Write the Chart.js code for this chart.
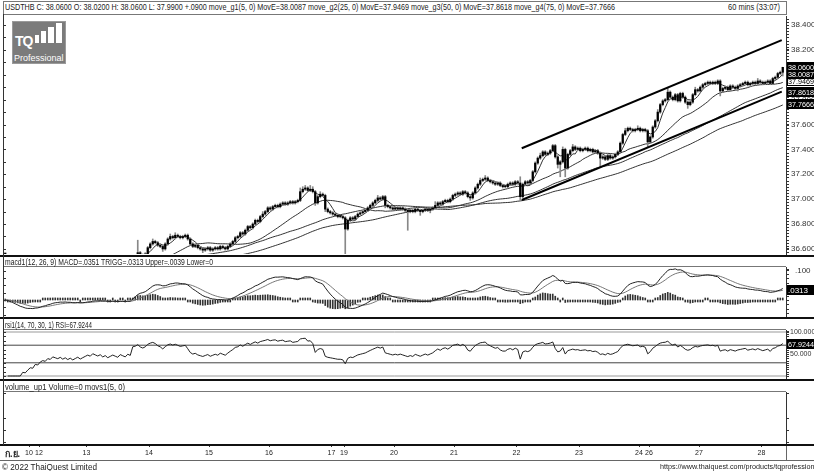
<!DOCTYPE html>
<html lang="th">
<head>
<meta charset="UTF-8">
<title>USDTHB 60 mins</title>
<script src="https://cdn.jsdelivr.net/npm/chart.js"></script>
<style>
  body { margin: 0; width: 814px; height: 471px; overflow: hidden; background: #fff; position: relative; font-family: 'Liberation Sans', Arial, sans-serif; color: #222; }
  canvas { position: absolute; left: 0; }
  .txt { position: absolute; white-space: nowrap; font-size: 9px; line-height: 10px; transform-origin: 0 0; }
  .rule { position: absolute; background: #111; }
  .row { position: absolute; left: 3px; width: 783px; border-bottom: 1px solid #777; }
  #logo { position: absolute; left: 12px; top: 21px; width: 54px; height: 43px; background: #7b7b7b; border: 1px solid #9a9a9a; box-sizing: border-box; color: #fff; }
  #logo .tq { position: absolute; left: 2px; top: 11px; font: bold 14px 'Liberation Sans', Arial, sans-serif; letter-spacing: -1px; }
  #logo .pro { position: absolute; left: 1px; top: 31px; font-size: 9px; }
  #logo i { position: absolute; background: #fff; }
</style>
</head>
<body>

<!-- header rows -->
<div class="row" style="top:1px;height:12px;border:1px solid #777;width:782px"></div>
<div class="txt" data-w="610" style="left:5px;top:2px">USDTHB C: 38.0600 O: 38.0200 H: 38.0600 L: 37.9900 +.0900 move_g1(5, 0) MovE=38.0087 move_g2(25, 0) MovE=37.9469 move_g3(50, 0) MovE=37.8618 move_g4(75, 0) MovE=37.7666</div>
<div class="txt" data-w="52" style="left:728px;top:2px">60 mins (33:07)</div>

<canvas id="price" width="814" height="242" style="top:14px"></canvas>
<canvas id="macd" width="814" height="62" style="top:256px"></canvas>
<canvas id="rsi" width="814" height="62" style="top:318px"></canvas>
<canvas id="vol" width="814" height="81" style="top:380px"></canvas>

<div class="row" style="top:257px;height:9px"></div>
<div class="txt" data-w="208" style="left:5px;top:257px">macd1(12, 26, 9) MACD=.0351 TRIGG=.0313 Upper=.0039 Lower=0</div>
<div class="row" style="top:319px;height:10px"></div>
<div class="txt" data-w="87" style="left:5px;top:320px">rsi1(14, 70, 30, 1) RSI=67.9244</div>
<div class="row" style="top:381px;height:10px"></div>
<div class="txt" data-w="120" style="left:5px;top:382px">volume_up1 Volume=0 movs1(5, 0)</div>

<!-- panel separators -->
<div class="rule" style="left:0;top:255px;width:814px;height:2px"></div>
<div class="rule" style="left:0;top:317px;width:814px;height:2px"></div>
<div class="rule" style="left:0;top:379px;width:814px;height:2px"></div>
<div class="rule" style="left:0;top:444px;width:814px;height:2px"></div>
<div class="rule" style="left:3px;top:14px;width:1px;height:431px;background:#333"></div>
<div class="rule" style="left:0;top:460px;width:814px;height:1px;background:#666"></div>
<div class="rule" style="left:786px;top:446px;width:1px;height:14px;background:#666"></div>

<div class="txt" style="left:5px;top:449px;font-weight:bold;font-size:9px">ก.ย.</div>
<div class="txt" data-w="95" style="left:2px;top:462px">© 2022 ThaiQuest Limited</div>
<div class="txt" data-w="160" style="left:660px;top:462px;font-size:8px">https://www.thaiquest.com/products/tqprofessional</div>

<div id="logo">
  <span class="tq">TQ</span>
  <i style="left:22px;top:13px;width:4px;height:8px"></i>
  <i style="left:28px;top:9px;width:5px;height:12px"></i>
  <i style="left:35px;top:5px;width:6px;height:16px"></i>
  <i style="left:43px;top:1px;width:6px;height:20px"></i>
  <div class="pro">Professional</div>
</div>

<script>
// ---- chart data (USDTHB, 60 min bars, 9-28 Sep) ----
const days = ['10', '12', '13', '14', '15', '16', '17', '19', '20', '21', '22', '23', '24', '26', '27', '28'];
const dayStart = [10, 14, 33, 58, 82, 106, 131, 136, 156, 180, 205, 230, 254, 258, 278, 303];

// closing price of each hourly bar (open = previous close)
const closes = [
  36.52, 36.50, 36.47, 36.46, 36.44, 36.43, 36.41, 36.42, 36.40, 36.41,
  36.42, 36.41, 36.43, 36.42, 36.44, 36.45, 36.44, 36.46, 36.45, 36.47,
  36.46, 36.45, 36.46, 36.44, 36.45, 36.43, 36.44, 36.42, 36.43, 36.44,
  36.42, 36.43, 36.44, 36.45, 36.44, 36.46, 36.45, 36.44, 36.45, 36.43,
  36.44, 36.42, 36.43, 36.44, 36.43, 36.42, 36.44, 36.43, 36.42, 36.44,
  36.43, 36.53, 36.54, 36.57, 36.55, 36.54, 36.56, 36.61, 36.64, 36.66,
  36.65, 36.63, 36.62, 36.60, 36.64, 36.68, 36.70, 36.69, 36.71, 36.70,
  36.69, 36.70, 36.71, 36.68, 36.64, 36.62, 36.63, 36.61, 36.60, 36.59,
  36.60, 36.61, 36.59, 36.60, 36.61, 36.60, 36.62, 36.61, 36.60, 36.62,
  36.64, 36.66, 36.69, 36.70, 36.73, 36.72, 36.75, 36.78, 36.77, 36.80,
  36.83, 36.82, 36.86, 36.88, 36.90, 36.93, 36.92, 36.94, 36.95, 36.94,
  36.96, 36.97, 36.96, 36.97, 36.98, 36.97, 36.98, 36.99, 37.06, 37.08,
  37.09, 37.07, 37.08, 37.06, 36.97, 37.02, 37.04, 37.03, 36.92, 36.90,
  36.89, 36.88, 36.87, 36.86, 36.86, 36.85, 36.76, 36.83, 36.85, 36.84,
  36.86, 36.88, 36.89, 36.90, 36.91, 36.93, 36.95, 36.97, 36.99, 37.01,
  37.00, 37.02, 36.95, 36.94, 36.93, 36.92, 36.93, 36.92, 36.93, 36.92,
  36.91, 36.90, 36.91, 36.90, 36.92, 36.91, 36.90, 36.91, 36.92, 36.91,
  36.92, 36.93, 36.95, 36.97, 36.96, 36.98, 36.99, 36.98, 37.00, 37.03,
  37.04, 37.05, 37.04, 37.06, 37.05, 37.02, 37.01, 37.05, 37.09, 37.12,
  37.15, 37.16, 37.17, 37.15, 37.14, 37.13, 37.12, 37.13, 37.11, 37.10,
  37.10, 37.12, 37.13, 37.12, 37.14, 37.13, 37.02, 37.12, 37.14, 37.13,
  37.15, 37.22, 37.29, 37.33, 37.35, 37.38, 37.36, 37.37, 37.39, 37.43,
  37.34, 37.28, 37.30, 37.40, 37.25, 37.36, 37.39, 37.42, 37.40, 37.41,
  37.39, 37.40, 37.41, 37.39, 37.40, 37.38, 37.39, 37.37, 37.33, 37.34,
  37.32, 37.35, 37.33, 37.34, 37.36, 37.38, 37.45, 37.52, 37.55, 37.57,
  37.56, 37.55, 37.56, 37.57, 37.55, 37.56, 37.55, 37.46, 37.50, 37.58,
  37.63, 37.70, 37.76, 37.79, 37.80, 37.86, 37.82, 37.80, 37.84, 37.79,
  37.85, 37.82, 37.78, 37.76, 37.78, 37.84, 37.88, 37.87, 37.90, 37.92,
  37.93, 37.94, 37.93, 37.94, 37.93, 37.95, 37.87, 37.89, 37.90, 37.88,
  37.91, 37.90, 37.89, 37.91, 37.92, 37.93, 37.94, 37.92, 37.93, 37.94,
  37.93, 37.95, 37.94, 37.93, 37.94, 37.95, 37.93, 37.97, 37.98, 38.01,
  38.02, 38.06
];
// wick lengths above / below the candle body, in satang (0.01)
const wickHi = [
  1,1,1,1,1,1,1,1,1,1, 1,1,1,1,1,1,1,1,1,1, 1,1,1,1,1,1,1,1,1,1, 1,1,1,1,1,1,1,1,1,1,
  1,1,1,1,1,1,1,1,1,1, 1,1,1,10,1,1,1,1,1,2, 1,1,1,1,1,1,2,1,2,1, 1,1,1,1,1,1,1,1,1,1,
  1,1,1,1,1,1,1,1,1,1, 1,1,1,1,1,1,1,1,1,1, 1,1,1,2,1,1,1,1,1,1, 1,1,1,1,1,1,1,1,3,2,
  2,1,3,2,1,1,2,1,1,1, 1,1,1,1,1,1,1,1,1,1, 1,1,1,1,1,1,1,1,1,2, 1,1,1,1,1,1,1,1,1,1,
  1,1,1,1,1,1,1,1,1,1, 1,1,3,1,1,1,1,1,1,1, 1,1,1,1,1,1,1,1,1,1, 2,1,2,1,1,1,1,1,1,1,
  1,1,1,1,1,1,5,1,1,1, 1,1,1,1,2,1,1,1,1,1, 1,1,1,2,1,1,1,2,1,1, 1,1,1,1,1,1,1,1,1,1,
  1,1,1,1,1,1,1,1,2,1, 1,1,1,2,1,1,1,1,1,1, 1,2,1,1,1,3,1,1,1,1, 1,1,1,1,1,1,2,1,1,1,
  1,1,1,1,1,1,1,1,1,1, 1,1,1,1,1,1,1,1,1,1, 1,2,1,1,1,1,1,1,1,1, 1,0
];
const wickLo = [
  1,1,1,1,1,1,1,1,1,1, 1,1,1,1,1,1,1,1,1,1, 1,1,1,1,1,1,1,1,1,1, 1,1,1,1,1,1,1,1,1,1,
  1,1,1,1,1,1,1,1,1,1, 1,1,1,1,1,1,1,1,1,1, 1,1,1,2,1,1,1,1,1,1, 1,1,1,1,1,1,1,1,1,2,
  1,1,1,1,1,1,1,1,1,1, 1,1,1,1,1,1,1,1,1,1, 1,1,1,1,1,1,1,1,1,1, 1,1,1,1,1,1,1,1,1,1,
  1,1,1,1,2,1,1,1,2,1, 1,1,1,1,1,1,36,1,1,1, 1,1,1,1,1,1,1,1,1,1, 1,1,2,1,1,1,1,1,1,1,
  1,15,1,1,1,1,3,1,1,1, 2,1,1,1,1,1,1,1,1,1, 1,1,1,1,1,1,2,1,1,1, 1,1,1,1,1,1,1,1,1,1,
  1,1,1,1,1,1,3,1,1,1, 1,1,1,1,1,1,1,1,1,1, 1,3,10,1,7,1,1,1,1,1, 1,1,1,1,1,1,1,1,7,1,
  1,1,1,1,1,1,1,1,1,1, 1,1,1,1,1,1,1,4,1,1, 1,1,1,1,1,1,1,1,1,1, 1,1,1,3,1,1,1,1,1,1,
  1,1,1,1,1,1,4,1,1,1, 1,1,1,2,1,1,1,1,1,1, 1,1,1,1,1,1,1,1,1,1, 1,3
];
const maPeriods = [5, 25, 50, 75];
// channel lines drawn on the chart: [bar index, price]
const trendUpper = [[206.6, 37.409], [310.6, 38.279]];
const trendLower = [[206.6, 36.993], [310.6, 37.864]];

const priceTicks = [36.6, 36.8, 37.0, 37.2, 37.4, 37.6, 37.8, 38.0, 38.2, 38.4];
const priceBoxes = [38.0600, 38.0087, 37.9469, 37.8618, 37.7666];
const rsiLevels = [100, 70, 30, 0];
const volTicks = [2, 14, 26, 51];

// ---- indicators ----
function sma(src, n) {
  return src.map((v, i) => i < n - 1 ? null : src.slice(i - n + 1, i + 1).reduce((a, b) => a + b, 0) / n);
}
function ema(src, n) {
  const k = 2 / (n + 1), out = [];
  src.forEach((v, i) => out.push(i === 0 ? v : v * k + out[i - 1] * (1 - k)));
  return out;
}
function rsiCalc(src, n) {
  const out = [null];
  let g = 0, l = 0;
  for (let i = 1; i < src.length; i++) {
    const d = src[i] - src[i - 1];
    const up = Math.max(d, 0), dn = Math.max(-d, 0);
    const m = Math.min(i, n);
    g = (g * (m - 1) + up) / m;
    l = (l * (m - 1) + dn) / m;
    out.push(l === 0 ? null : 100 - 100 / (1 + g / l));
  }
  return out;
}

const opens = closes.map((c, i) => i === 0 ? c : closes[i - 1]);
const e12 = ema(closes, 12), e26 = ema(closes, 26);
const macdLine = e12.map((v, i) => v - e26[i]);
const trigg = ema(macdLine, 9);
const hist = macdLine.map((v, i) => v - trigg[i]);
const rsiLine = rsiCalc(closes, 14);

const pts = arr => arr.map((y, i) => ({ x: i, y })).filter(p => p.y !== null);
const xMin = -0.9, xMax = 312.3;
const AXFONT = { family: 'Liberation Sans', size: 8 };
const DAYFONT = { family: 'Liberation Sans', size: 7 };

// ---- helper plugin: edge tick marks and value boxes on the right axis ----
const edgeTicks = {
  id: 'edgeTicks',
  afterDraw(chart, args, o) {
    const { ctx, chartArea: a } = chart;
    const y = chart.scales.y;
    const vals = (step) => { const r = []; for (let v = Math.ceil(y.min / step) * step; v <= y.max; v += step) r.push(v); return r; };
    ctx.save();
    ctx.strokeStyle = '#333';
    ctx.lineWidth = 1;
    ctx.beginPath();
    (o.leftValues || (o.left ? vals(o.left) : [])).forEach(v => {
      const p = Math.round(y.getPixelForValue(v)) + 0.5;
      ctx.moveTo(a.left, p); ctx.lineTo(a.left + 3, p);
    });
    (o.rightValues || (o.right ? vals(o.right) : [])).forEach(v => {
      const p = Math.round(y.getPixelForValue(v)) + 0.5;
      ctx.moveTo(a.right, p); ctx.lineTo(a.right + 3, p);
    });
    ctx.stroke();
    (o.boxes || []).forEach(b => {
      const p = Math.round(y.getPixelForValue(b.v));
      ctx.fillStyle = b.light ? '#fff' : '#000';
      ctx.fillRect(a.right + 1, p - 5, 28, 10);
      if (b.light) { ctx.strokeStyle = '#000'; ctx.strokeRect(a.right + 1.5, p - 4.5, 27, 9); }
      ctx.fillStyle = b.light ? '#000' : '#fff';
      ctx.font = '8px Liberation Sans';
      ctx.textBaseline = 'middle';
      // squeeze the label so it fits the 28px box
      const w = ctx.measureText(b.text).width;
      ctx.save();
      ctx.translate(a.right + 2, p + 0.5);
      ctx.scale(Math.min(1, 26 / w), 1);
      ctx.fillText(b.text, 0, 0);
      ctx.restore();
    });
    ctx.restore();
  }
};

function yAxis(extra) {
  return Object.assign({
    position: 'right',
    afterFit: s => { s.width = 28; s.paddingTop = 0; s.paddingBottom = 0; },
    grid: { drawOnChartArea: false, tickLength: 3, color: '#333' },
    border: { color: '#333' },
    ticks: { font: AXFONT, color: '#333', padding: 2 }
  }, extra);
}
const base = {
  responsive: false,
  animation: false,
  devicePixelRatio: 1,
  plugins: { legend: { display: false }, tooltip: { enabled: false } }
};
const hiddenX = { type: 'linear', min: xMin, max: xMax, offset: false, grid: { offset: false }, display: false };

// ---- price panel ----
new Chart(document.getElementById('price'), {
  data: {
    datasets: [
      { type: 'line', data: trendUpper.map(p => ({ x: p[0], y: p[1] })), borderColor: '#000', borderWidth: 2, pointRadius: 0 },
      { type: 'line', data: trendLower.map(p => ({ x: p[0], y: p[1] })), borderColor: '#000', borderWidth: 2, pointRadius: 0 },
      { type: 'bar', data: closes.map((c, i) => ({ x: i, y: [opens[i], c] })), backgroundColor: '#000', barThickness: 1.6, minBarLength: 1, grouped: false },
      { type: 'bar', data: closes.map((c, i) => ({ x: i, y: [Math.min(opens[i], c) - wickLo[i] / 100, Math.max(opens[i], c) + wickHi[i] / 100] })), backgroundColor: '#888', barThickness: 1, grouped: false },
      ...maPeriods.map(n => ({ type: 'line', data: pts(sma(closes, n)), borderColor: '#333', borderWidth: 1, pointRadius: 0 }))
    ]
  },
  options: Object.assign({}, base, {
    layout: { padding: { left: 3, top: 2, bottom: 2, right: 0 } },
    plugins: Object.assign({}, base.plugins, {
      edgeTicks: { left: 0.1, right: 0.025, boxes: priceBoxes.map((v, i) => ({ v, text: v.toFixed(4), light: i === 2 })).reverse() }
    }),
    scales: {
      x: hiddenX,
      y: yAxis({
        min: 38.4 - 229 / 124.4, max: 38.4 + 9 / 124.4,
        afterBuildTicks: s => { s.ticks = priceTicks.map(v => ({ value: v })); },
        ticks: { font: AXFONT, color: '#333', padding: 2, callback: v => v.toFixed(3) }
      })
    }
  }),
  plugins: [edgeTicks]
});

// ---- MACD panel ----
new Chart(document.getElementById('macd'), {
  data: {
    datasets: [
      { type: 'line', data: pts(macdLine), borderColor: '#222', borderWidth: 1, pointRadius: 0 },
      { type: 'line', data: pts(trigg), borderColor: '#777', borderWidth: 1, pointRadius: 0 },
      { type: 'bar', data: pts(hist), backgroundColor: '#333', barThickness: 1, minBarLength: 2, grouped: false }
    ]
  },
  options: Object.assign({}, base, {
    layout: { padding: { left: 3, top: 11, bottom: 1, right: 0 } },
    plugins: Object.assign({}, base.plugins, {
      edgeTicks: { left: 0.025, right: 0.015, boxes: [{ v: trigg[trigg.length - 1], text: '.0313' }] }
    }),
    scales: {
      x: hiddenX,
      y: yAxis({
        min: -17 / 291, max: 33 / 291,
        afterBuildTicks: s => { s.ticks = [{ value: 0.1 }]; },
        ticks: { font: AXFONT, color: '#333', padding: 6, callback: v => '.' + v.toFixed(3).split('.')[1] }
      })
    }
  }),
  plugins: [edgeTicks]
});

// ---- RSI panel ----
new Chart(document.getElementById('rsi'), {
  data: {
    datasets: [
      { type: 'line', data: pts(rsiLine), borderColor: '#222', borderWidth: 1, pointRadius: 0 },
      ...rsiLevels.map(l => ({
        type: 'line', data: [{ x: xMin, y: l }, { x: xMax, y: l }],
        borderColor: (l === 70 || l === 30) ? '#444' : '#999', borderWidth: 1, pointRadius: 0
      }))
    ]
  },
  options: Object.assign({}, base, {
    layout: { padding: { left: 3, top: 12, bottom: 2, right: 0 } },
    plugins: Object.assign({}, base.plugins, {
      edgeTicks: { left: 10, right: 5, boxes: [{ v: rsiLine[rsiLine.length - 1], text: '67.9244' }] }
    }),
    scales: {
      x: hiddenX,
      y: yAxis({
        min: -2 / 0.44, max: 100 + 2 / 0.44,
        afterBuildTicks: s => { s.ticks = [{ value: 100 }, { value: 50 }]; },
        ticks: { font: DAYFONT, color: '#333', padding: 1, callback: v => v.toFixed(3) }
      })
    }
  }),
  plugins: [edgeTicks]
});

// ---- volume panel (no volume for FX) + date axis ----
new Chart(document.getElementById('vol'), {
  data: { datasets: [{ type: 'bar', data: [], backgroundColor: '#000' }] },
  options: Object.assign({}, base, {
    layout: { padding: { left: 3, top: 12, bottom: 0, right: 0 } },
    plugins: Object.assign({}, base.plugins, {
      edgeTicks: { leftValues: volTicks, rightValues: volTicks }
    }),
    scales: {
      x: {
        type: 'linear', min: xMin, max: xMax, position: 'bottom', offset: false,
        afterBuildTicks: s => { s.ticks = dayStart.map(d => ({ value: d - 0.5 })); },
        afterFit: s => { s.height = 17; s.paddingLeft = 0; s.paddingRight = 0; },
        grid: { drawOnChartArea: false, offset: false, tickLength: 3, color: '#333' },
        border: { color: '#333' },
        ticks: { autoSkip: false, maxRotation: 0, font: DAYFONT, color: '#222', padding: 2, callback: (v, i) => days[i] }
      },
      y: yAxis({
        min: 0, max: 52,
        afterBuildTicks: s => { s.ticks = []; },
        ticks: { display: false }
      })
    }
  }),
  plugins: [edgeTicks]
});

// squeeze the header texts to the widths they take in the terminal
document.querySelectorAll('.txt[data-w]').forEach(el => {
  const w = el.getBoundingClientRect().width;
  el.style.transform = 'scaleX(' + (el.dataset.w / w) + ')';
});
</script>
</body>
</html>
